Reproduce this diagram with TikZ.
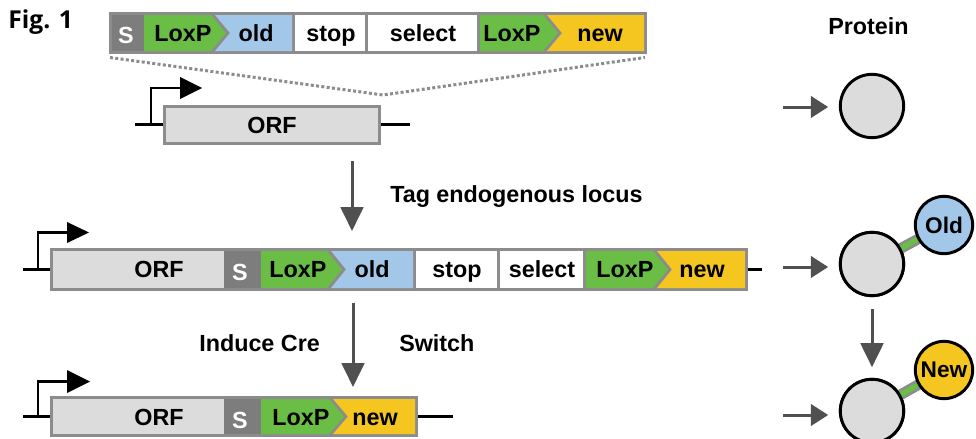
\documentclass[tikz,border=0pt]{standalone}
\usepackage{fontspec}
\setmainfont{Liberation Sans}
\newfontfamily\figfont{Open Sans}
\usetikzlibrary{arrows.meta}
\definecolor{rimgray}{HTML}{8C8C8C}
\definecolor{sgray}{HTML}{7D7D7D}
\definecolor{orfgray}{HTML}{DCDCDC}
\definecolor{loxgreen}{HTML}{6ABD45}
\definecolor{oldblue}{HTML}{A2C7E9}
\definecolor{newyellow}{HTML}{F5C61F}
\definecolor{arrowgray}{HTML}{505050}
\begin{document}
\begin{tikzpicture}[x=0.75pt,y=-0.75pt,
  segtxt/.style={font=\fontsize{17.5}{20}\selectfont\bfseries, inner sep=0pt, anchor=base},
  stxt/.style={segtxt, text=white},
  lbl/.style={font=\fontsize{17.5}{21}\selectfont\bfseries, inner sep=0pt, anchor=base west},
  dna/.style={line width=2pt, black},
  orfbox/.style={draw=rimgray, line width=2.25pt, fill=orfgray, inner sep=0pt},
  dotline/.style={rimgray, line width=2.25pt, dash pattern=on 2.25pt off 1.75pt},
  downarrow/.style={arrowgray, line width=2.25pt, -{Triangle[width=17pt,length=18pt]}},
  sidearrow/.style={arrowgray, line width=2.25pt, -{Triangle[width=16pt,length=13pt]}},
  prot/.style={circle, draw=black, line width=2.2pt, fill=orfgray, minimum size=47.5pt, inner sep=0pt},
  tagc/.style={circle, draw=black, line width=2.2pt, minimum size=43pt, inner sep=0pt,
    font=\fontsize{17}{20}\selectfont\bfseries},
  linkouter/.style={rimgray, line width=8pt},
  linkinner/.style={loxgreen, line width=4pt}]
\useasboundingbox (0,0) rectangle (976,439);

% figure number and column heading
\node[inner sep=0pt, anchor=base west, font=\figfont\fontsize{18.5}{21}\selectfont\bfseries] (fig) at (8,28) {Fig. 1};
\node[lbl] (protein) at (828,34) {Protein};

% ---------- targeting cassette ----------
\fill[rimgray] (109,12) rectangle (647,54);
\fill[sgray] (112,15) rectangle (144,51);
\fill[loxgreen] (144,15) -- (211,15) -- (226,33) -- (211,51) -- (144,51) -- cycle;
\fill[oldblue] (215,15) -- (292,15) -- (292,51) -- (215,51) -- (230,33) -- cycle;
\fill[white] (295,15) rectangle (365,51);
\fill[white] (368,15) rectangle (477,51);
\fill[loxgreen] (480,15) -- (543,15) -- (558,33) -- (543,51) -- (480,51) -- cycle;
\fill[newyellow] (547,15) -- (644,15) -- (644,51) -- (547,51) -- (562,33) -- cycle;
\node[stxt] (s0) at (126,43) {S};
\node[segtxt] (lox0a) at (183,41) {LoxP};
\node[segtxt] (old0) at (256,41) {old};
\node[segtxt] (stop0) at (331,41) {stop};
\node[segtxt] (sel0) at (423,41) {select};
\node[segtxt] (lox0b) at (512,41) {LoxP};
\node[segtxt] (new0) at (600,41) {new};

% insertion site
\coordinate (ins) at (383,95);
\draw[dotline] (110,57.5) -- (ins) -- (645,57.5);

% ---------- endogenous gene ----------
\node[orfbox, minimum width=161.25pt, minimum height=27.75pt] (orf1) at (271.5,124.5) {};
\node[segtxt] (orf1t) at (272,133) {ORF};
\draw[dna] (135,124.5) -- (orf1.west);
\draw[dna] (orf1.east) -- (410,124.5);
\draw[dna] (151,124.5) -- (151,88) -- (181,88);
\fill (180,77) -- (202,88) -- (180,99) -- cycle;

\coordinate (d1a) at (352,161);
\coordinate (d1b) at (352,231);
\draw[downarrow] (d1a) -- (d1b);
\node[lbl] (tag) at (390,202) {Tag endogenous locus};

% ---------- tagged locus ----------
\draw[dna] (23,269.5) -- (50,269.5);
\draw[dna] (748,269.5) -- (762,269.5);
\fill[rimgray] (50,248) rectangle (748,291);
\fill[orfgray] (53,251) rectangle (224,288);
\fill[sgray] (224,251) rectangle (261,288);
\fill[loxgreen] (261,251) -- (327,251) -- (342,269.5) -- (327,288) -- (261,288) -- cycle;
\fill[oldblue] (331,251) -- (413,251) -- (413,288) -- (331,288) -- (346,269.5) -- cycle;
\fill[white] (416,251) rectangle (497,288);
\fill[white] (500,251) rectangle (583,288);
\fill[loxgreen] (586,251) -- (653,251) -- (668,269.5) -- (653,288) -- (586,288) -- cycle;
\fill[newyellow] (657,251) -- (745,251) -- (745,288) -- (657,288) -- (672,269.5) -- cycle;
\node[segtxt] (orf2) at (159,277) {ORF};
\node[stxt] (s2) at (240,280) {S};
\node[segtxt] (lox2a) at (298,277) {LoxP};
\node[segtxt] (old2) at (372,277) {old};
\node[segtxt] (stop2) at (457,277) {stop};
\node[segtxt] (sel2) at (542,277) {select};
\node[segtxt] (lox2b) at (625,277) {LoxP};
\node[segtxt] (new2) at (702,277) {new};
\draw[dna] (38,269.5) -- (38,232.5) -- (68,232.5);
\fill (67,222) -- (89,232.5) -- (67,243) -- cycle;

\coordinate (d2a) at (353,303);
\coordinate (d2b) at (353,387);
\draw[downarrow] (d2a) -- (d2b);
\node[lbl] (cre) at (199,351) {Induce Cre};
\node[lbl] (switch) at (399,351) {Switch};

% ---------- switched locus ----------
\draw[dna] (23,416.5) -- (50,416.5);
\draw[dna] (418,416.5) -- (453,416.5);
\fill[rimgray] (50,396) rectangle (418,437);
\fill[orfgray] (53,399) rectangle (224,434);
\fill[sgray] (224,399) rectangle (261,434);
\fill[loxgreen] (261,399) -- (329,399) -- (344,416.5) -- (329,434) -- (261,434) -- cycle;
\fill[newyellow] (333,399) -- (415,399) -- (415,434) -- (333,434) -- (348,416.5) -- cycle;
\node[segtxt] (orf3) at (159,425) {ORF};
\node[stxt] (s3) at (240,428) {S};
\node[segtxt] (lox3) at (301,425) {LoxP};
\node[segtxt] (new3) at (375,425) {new};
\draw[dna] (38,416.5) -- (38,381.5) -- (68,381.5);
\fill (67,370) -- (90,381.5) -- (67,393) -- cycle;

% ---------- protein products ----------
\node[prot] (c1) at (872,106) {};
\node[prot] (c2) at (872,264) {};
\node[prot] (c3) at (872,411) {};
\coordinate (tOld) at (944,225);
\coordinate (tNew) at (944,370);
\draw[linkouter] (c2.center) -- (tOld);
\draw[linkinner] (c2.center) -- (tOld);
\draw[linkouter] (c3.center) -- (tNew);
\draw[linkinner] (c3.center) -- (tNew);
\node[prot] at (c2) {};
\node[prot] at (c3) {};
\node[tagc, fill=oldblue] (old) at (tOld) {Old};
\node[tagc, fill=newyellow] (new) at (tNew) {New};

\coordinate (a1) at (783,107);
\coordinate (a2) at (783,267);
\coordinate (a3) at (783,415);
\draw[sidearrow, shorten >=8pt] (a1) -- (a1 -| c1.west);
\draw[sidearrow, shorten >=8pt] (a2) -- (a2 -| c2.west);
\draw[sidearrow, shorten >=8pt] (a3) -- (a3 -| c3.west);
\draw[downarrow, shorten <=9pt, shorten >=8pt] (c2.south) -- (c3.north);
\end{tikzpicture}
\end{document}
